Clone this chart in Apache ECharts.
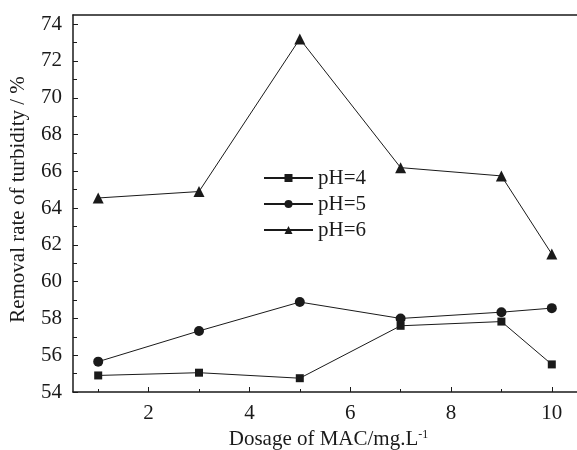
<!DOCTYPE html>
<html>
<head>
<meta charset="utf-8">
<script src="https://cdn.jsdelivr.net/npm/echarts@6/dist/echarts.min.js"></script>
<style>
  html, body { margin: 0; padding: 0; background: #fff; }
  #chart { width: 577px; height: 450px; }
</style>
</head>
<body>
<div id="chart"></div>
<script>
// MAC dosage (mg/L) and turbidity removal (%) at three pH levels
const dosage = [1, 3, 5, 7, 9, 10];
const removalPH4 = [54.9, 55.05, 54.75, 57.6, 57.83, 55.5];
const removalPH5 = [55.65, 57.32, 58.89, 58.0, 58.34, 58.56];
const removalPH6 = [64.55, 64.9, 73.2, 66.2, 65.75, 61.5];
const seriesNames = ['pH=4', 'pH=5', 'pH=6'];

// Tick positions
const xMajorTicks = [2, 4, 6, 8, 10];
const xMinorTicks = [1, 3, 5, 7, 9];
const yMajorTicks = [54, 56, 58, 60, 62, 64, 66, 68, 70, 72, 74];
const yMinorTicks = [55, 57, 59, 61, 63, 65, 67, 69, 71, 73];

const serif = '"Liberation Serif", "Times New Roman", serif';
const ink = '#1a1a1a';
const fs = 21;

function pairs(xs, ys) {
  return xs.map((x, i) => [x, ys[i]]);
}

const chart = echarts.init(document.getElementById('chart'), null, { renderer: 'canvas' });

const xBase = { type: 'value', min: 0.5, max: 10.5, gridIndex: 0, splitLine: { show: false } };
const yBase = { type: 'value', min: 54, max: 74.5, gridIndex: 0, splitLine: { show: false } };

const lineSeries = (name, values, symbol, size) => ({
  name: name,
  type: 'line',
  data: pairs(dosage, values),
  symbol: symbol,
  symbolSize: size,
  showAllSymbol: true,
  lineStyle: { color: ink, width: 1 },
  itemStyle: { color: ink, borderWidth: 0 },
  emphasis: { disabled: true },
  animation: false
});

chart.setOption({
  backgroundColor: '#fff',
  animation: false,
  grid: { left: 73, top: 15, right: 0, bottom: 58, containLabel: false, outerBoundsMode: 'none' },
  legend: {
    orient: 'vertical',
    left: 263,
    top: 167,
    padding: 0,
    itemWidth: 49,
    itemHeight: 10,
    itemGap: 4,
    data: seriesNames,
    textStyle: { fontFamily: serif, fontSize: fs, color: ink, lineHeight: 22 },
    selectedMode: false
  },
  xAxis: [
    Object.assign({}, xBase, {
      position: 'bottom',
      name: 'Dosage of MAC/mg.L{sup|-1}',
      nameLocation: 'middle',
      nameGap: 37,
      nameTextStyle: {
        fontFamily: serif, fontSize: fs, color: ink, padding: [0, 0, 0, 7],
        rich: { sup: { fontFamily: serif, fontSize: 12, color: ink, verticalAlign: 'top', padding: [0, 0, 9, 0] } }
      },
      axisLine: { show: true, onZero: false, lineStyle: { color: ink, width: 1.5 } },
      axisTick: { show: true, inside: true, length: 5, customValues: xMajorTicks, lineStyle: { color: ink, width: 1 } },
      axisLabel: { show: true, margin: 11, customValues: xMajorTicks, fontFamily: serif, fontSize: fs, color: ink }
    }),
    Object.assign({}, xBase, {
      position: 'bottom',
      axisLine: { show: false, onZero: false },
      axisTick: { show: true, inside: true, length: 3, customValues: xMinorTicks, lineStyle: { color: ink, width: 1 } },
      axisLabel: { show: false }
    }),
    Object.assign({}, xBase, {
      position: 'top',
      axisLine: { show: true, onZero: false, lineStyle: { color: ink, width: 1.5 } },
      axisTick: { show: false },
      axisLabel: { show: false }
    })
  ],
  yAxis: [
    Object.assign({}, yBase, {
      position: 'left',
      name: 'Removal rate of turbidity / %',
      nameLocation: 'middle',
      nameRotate: 90,
      nameGap: 44,
      nameTextStyle: { fontFamily: serif, fontSize: fs, color: ink, padding: [0, 0, 0, 8] },
      axisLine: { show: true, onZero: false, lineStyle: { color: ink, width: 1.5 } },
      axisTick: { show: true, inside: true, length: 5, customValues: yMajorTicks, lineStyle: { color: ink, width: 1 } },
      axisLabel: { show: true, margin: 11, customValues: yMajorTicks, fontFamily: serif, fontSize: fs, color: ink }
    }),
    Object.assign({}, yBase, {
      position: 'left',
      axisLine: { show: false, onZero: false },
      axisTick: { show: true, inside: true, length: 4, customValues: yMinorTicks, lineStyle: { color: ink, width: 1 } },
      axisLabel: { show: false }
    })
  ],
  series: [
    lineSeries(seriesNames[0], removalPH4, 'rect', 8),
    lineSeries(seriesNames[1], removalPH5, 'circle', 10),
    lineSeries(seriesNames[2], removalPH6, 'triangle', 11)
  ]
});
</script>
</body>
</html>
